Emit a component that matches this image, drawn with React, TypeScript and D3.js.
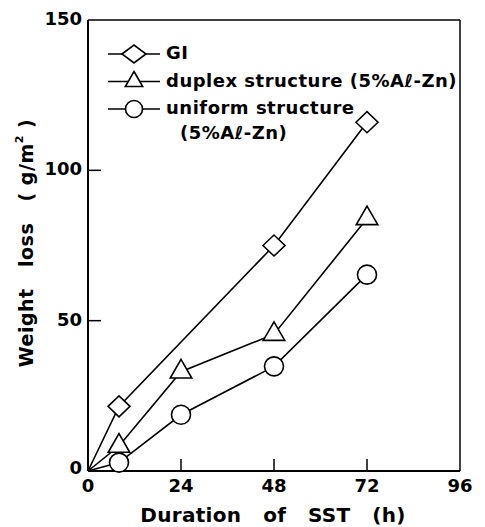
import React from "react";
import * as d3 from "d3";

const hours = [0, 8, 24, 48, 72];
const giHours = [0, 8, 48, 72];
const giLoss = [0, 21.5, 75, 116];
const duplexLoss = [0, 8.3, 33, 45.5, 84];
const uniformLoss = [0, 2.8, 18.7, 34.8, 65.3];
const xTicks = [0, 24, 48, 72, 96];
const yTicks = [0, 50, 100, 150];

const legendItems = ["GI", "duplex structure (5%Aℓ-Zn)", "uniform structure"];

export default function App() {
  const width = 485;
  const height = 527;
  const left = 88;
  const right = 460;
  const top = 20;
  const bottom = 471;

  const x = d3.scaleLinear().domain([0, 96]).range([left, right]);
  const y = d3.scaleLinear().domain([0, 150]).range([bottom, top]);

  const line = d3
    .line<[number, number]>()
    .x((d) => x(d[0]))
    .y((d) => y(d[1]));

  const gi: [number, number][] = giHours.map((h, i) => [h, giLoss[i]]);
  const duplex: [number, number][] = hours.map((h, i) => [h, duplexLoss[i]]);
  const uniform: [number, number][] = hours.map((h, i) => [h, uniformLoss[i]]);

  const font = "'DejaVu Sans', sans-serif";
  const diamond = (cx: number, cy: number, w: number, h: number) =>
    `M${cx - w / 2},${cy}L${cx},${cy - h / 2}L${cx + w / 2},${cy}L${cx},${cy + h / 2}Z`;
  const triangle = d3.symbol().type(d3.symbolTriangle).size(200)();

  return (
    <svg
      width={width}
      height={height}
      style={{ position: "absolute", left: 0, top: 0, background: "#fff" }}
      fontFamily={font}
      fontWeight="bold"
    >
      {/* frame */}
      <line x1={left} x2={left} y1={top} y2={bottom} stroke="#000" strokeWidth={2} />
      <line x1={left} x2={right} y1={bottom} y2={bottom} stroke="#000" strokeWidth={2} />
      <line x1={left} x2={right} y1={top} y2={top} stroke="#000" strokeWidth={1.5} />
      <line x1={right} x2={right} y1={top} y2={bottom} stroke="#000" strokeWidth={1.5} />

      {/* y ticks */}
      {yTicks.map((t) => (
        <g key={"y" + t}>
          {t > 0 && t < 150 && (
            <line x1={left} x2={left + 13} y1={y(t)} y2={y(t)} stroke="#000" strokeWidth={1.5} />
          )}
          <text
            x={left - 6}
            y={t === 0 ? y(t) - 2 : y(t)}
            fontSize={18}
            textAnchor="end"
            dominantBaseline="middle"
          >
            {t}
          </text>
        </g>
      ))}

      {/* x ticks */}
      {xTicks.map((t) => (
        <g key={"x" + t}>
          {t > 0 && t < 96 && (
            <line x1={x(t)} x2={x(t)} y1={bottom} y2={bottom - 12} stroke="#000" strokeWidth={1.5} />
          )}
          <text x={x(t)} y={bottom + 16} fontSize={18} textAnchor="middle" dominantBaseline="middle">
            {t}
          </text>
        </g>
      ))}

      {/* axis titles */}
      <text
        x={273}
        y={522}
        fontSize={20}
        textAnchor="middle"
        letterSpacing={0.3}
        style={{ whiteSpace: "pre" }}
      >
        {"Duration   of   SST   (h)"}
      </text>
      <text
        transform="translate(27,243) rotate(-90)"
        fontSize={19}
        textAnchor="middle"
        dominantBaseline="middle"
        letterSpacing={0.5}
        style={{ whiteSpace: "pre" }}
      >
        {"Weight   loss   ( g/m"}
        <tspan fontSize={11} dy={-7}>2</tspan>
        <tspan dy={7}>{" )"}</tspan>
      </text>

      {/* series lines */}
      <path d={line(gi) || ""} fill="none" stroke="#000" strokeWidth={1.6} />
      <path d={line(duplex) || ""} fill="none" stroke="#000" strokeWidth={1.6} />
      <path d={line(uniform) || ""} fill="none" stroke="#000" strokeWidth={1.6} />

      {/* markers */}
      {gi.slice(1).map((d, i) => (
        <path key={"g" + i} d={diamond(x(d[0]), y(d[1]), 22, 21)} fill="#fff" stroke="#000" strokeWidth={1.6} />
      ))}
      {duplex.slice(1).map((d, i) => (
        <path
          key={"d" + i}
          d={triangle || ""}
          transform={`translate(${x(d[0])},${y(d[1])})`}
          fill="#fff"
          stroke="#000"
          strokeWidth={1.6}
        />
      ))}
      {uniform.slice(1).map((d, i) => (
        <circle key={"u" + i} cx={x(d[0])} cy={y(d[1])} r={9.5} fill="#fff" stroke="#000" strokeWidth={1.6} />
      ))}

      {/* legend */}
      {legendItems.map((label, i) => {
        const ly = 54 + i * 27.5;
        return (
          <g key={"l" + i}>
            <line x1={108} x2={160} y1={ly} y2={ly} stroke="#000" strokeWidth={1.6} />
            {i === 0 && <path d={diamond(134, ly, 24, 18)} fill="#fff" stroke="#000" strokeWidth={1.6} />}
            {i === 1 && (
              <path
                d={d3.symbol().type(d3.symbolTriangle).size(130)() || ""}
                transform={`translate(134,${ly})`}
                fill="#fff"
                stroke="#000"
                strokeWidth={1.6}
              />
            )}
            {i === 2 && <circle cx={134} cy={ly} r={8.5} fill="#fff" stroke="#000" strokeWidth={1.6} />}
            <text x={166} y={ly} fontSize={18} letterSpacing={0.5} dominantBaseline="middle">
              {label}
            </text>
          </g>
        );
      })}
      <text x={180} y={134} fontSize={18} letterSpacing={0.5} dominantBaseline="middle">
        (5%Aℓ-Zn)
      </text>
    </svg>
  );
}
